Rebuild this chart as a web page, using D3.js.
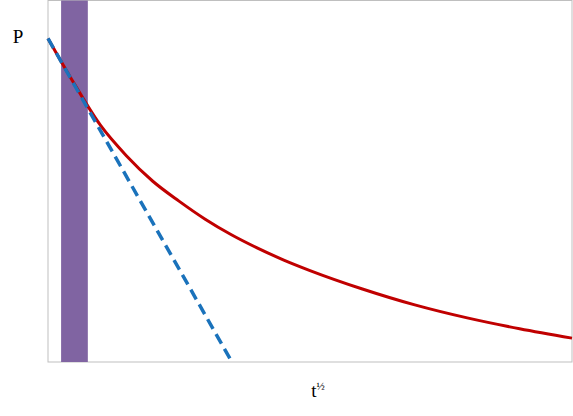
<!DOCTYPE html>
<html>
<head>
<meta charset="utf-8">
<script src="https://cdn.jsdelivr.net/npm/d3@7"></script>
<style>
  body { margin: 0; background: #fff; }
  svg text { font-family: "Liberation Serif", "DejaVu Serif", serif; fill: #000; }
</style>
</head>
<body>
<div id="chart"></div>
<script>
/*** DATA ***/
// red curve, P against t^1/2 (arbitrary units 0-100)
var curveX = [0, 5, 10, 15, 20, 25, 30, 35, 40, 45, 50, 60, 70, 80, 90, 100];
var curveY = [89.5, 77, 65.5, 57, 50, 44.5, 39.5, 35.2, 31.5, 28.2, 25.3, 20.2, 15.8, 12.2, 9.2, 6.6];
// dashed tangent line
var tangentX = [0, 35.1];
var tangentY = [89.5, 0];
// shaded band
var bandRange = [2.5, 7.6];

var width = 573, height = 416;
var margin = {top: 0.5, right: 1, bottom: 54, left: 48};

var svg = d3.select('#chart').append('svg')
  .attr('width', width)
  .attr('height', height);

var x = d3.scaleLinear().domain([0, 100]).range([margin.left, width - margin.right]);
var y = d3.scaleLinear().domain([0, 100]).range([height - margin.bottom, margin.top]);

//plot frame
svg.append('rect')
  .attr('x', x(0))
  .attr('y', y(100))
  .attr('width', x(100) - x(0))
  .attr('height', y(0) - y(100))
  .attr('fill', 'none')
  .attr('stroke', '#bfbfbf')
  .attr('stroke-width', 1);

//band
svg.append('rect')
  .attr('x', x(bandRange[0]))
  .attr('y', y(100))
  .attr('width', x(bandRange[1]) - x(bandRange[0]))
  .attr('height', y(0) - y(100))
  .attr('fill', '#8064a2');

//curve
var line = d3.line()
  .x(function(d) { return x(d[0]); })
  .y(function(d) { return y(d[1]); })
  .curve(d3.curveMonotoneX);

svg.append('path')
  .datum(d3.zip(curveX, curveY))
  .attr('d', line)
  .attr('fill', 'none')
  .attr('stroke', '#c00000')
  .attr('stroke-width', 3);

//tangent
svg.append('path')
  .datum(d3.zip(tangentX, tangentY))
  .attr('d', d3.line().x(function(d) { return x(d[0]); }).y(function(d) { return y(d[1]); }))
  .attr('fill', 'none')
  .attr('stroke', '#1a72bb')
  .attr('stroke-width', 3.5)
  .attr('stroke-dasharray', '11,6');

//axis labels
svg.append('text')
  .attr('x', 18)
  .attr('y', 43)
  .attr('text-anchor', 'middle')
  .attr('font-size', 19)
  .text('P');

var xl = svg.append('text')
  .attr('x', 318)
  .attr('y', 397)
  .attr('text-anchor', 'middle')
  .attr('font-size', 19);
xl.append('tspan').text('t');
xl.append('tspan')
  .attr('font-size', 11)
  .attr('dy', -7)
  .text('½');
</script>
</body>
</html>
